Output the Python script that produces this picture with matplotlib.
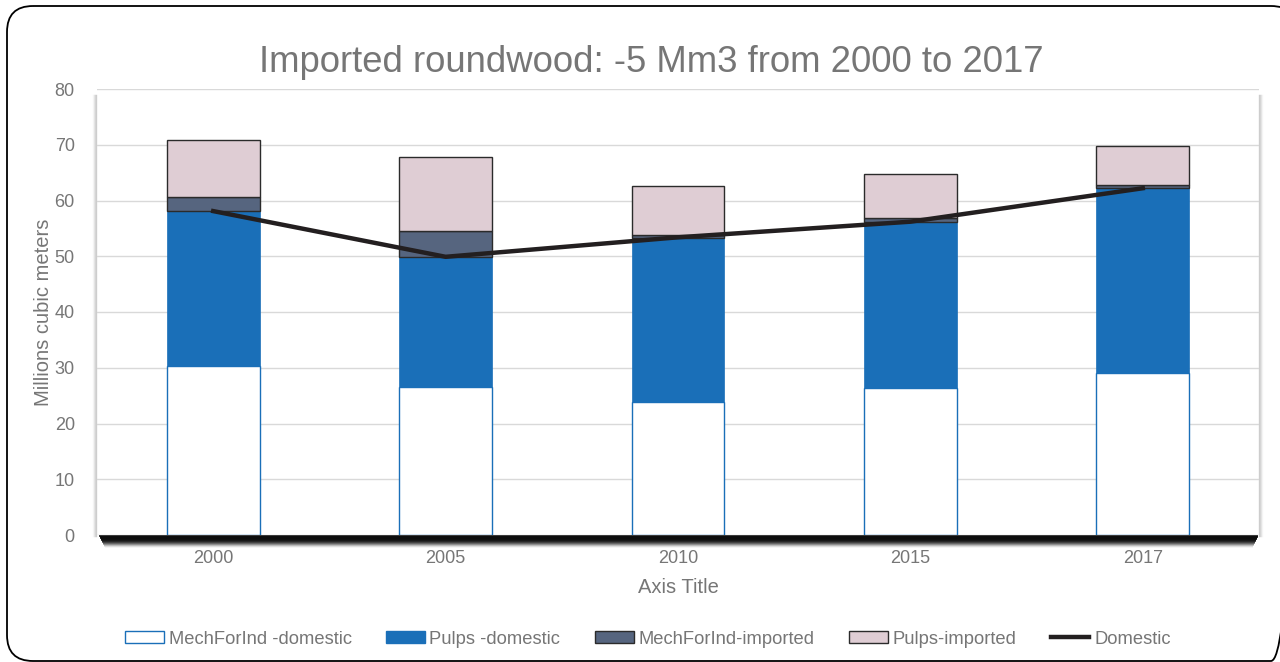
import matplotlib.pyplot as plt
import numpy as np
from matplotlib.patches import FancyBboxPatch
from matplotlib.lines import Line2D

plt.rcParams["font.family"] = ["Liberation Sans", "DejaVu Sans"]

years = ["2000", "2005", "2010", "2015", "2017"]
mech_dom = [30.3, 26.5, 23.9, 26.4, 29.1]
pulps_dom = [27.8, 23.4, 29.4, 29.7, 33.1]
mech_imp = [2.5, 4.6, 0.5, 0.8, 0.6]
pulps_imp = [10.3, 13.3, 8.8, 7.9, 7.0]
domestic = [58.1, 49.9, 53.4, 56.2, 62.2]

grey = "#767676"
W, H = 1280, 662
fig = plt.figure(figsize=(W / 100, H / 100), dpi=100)

# overlay in pixel units for the outer frame
bg = fig.add_axes([0, 0, 1, 1])
bg.set_xlim(0, W)
bg.set_ylim(H, 0)
bg.axis("off")
bg.add_patch(FancyBboxPatch((7, 6), 1290, 655, boxstyle="round,pad=0,rounding_size=26",
                            fc="none", ec="black", lw=1.3))
# soft shadows at plot-area edges
for i, a in enumerate(np.linspace(0.35, 0.05, 4)):
    bg.plot([96 - i, 96 - i], [95, 536], color="#808080", alpha=a, lw=1)
    bg.plot([1259 + i, 1259 + i], [95, 536], color="#808080", alpha=a, lw=1)
alphas = [1, 1, 1, 1, 0.95, 0.85, 0.7, 0.55, 0.4, 0.25, 0.12, 0.05]
for i, a in enumerate(alphas):
    bg.plot([99 + i * 0.5, 1258 - i * 0.5], [536 + i, 536 + i], color="black",
            alpha=a, lw=1.1, solid_capstyle="butt")

ax = fig.add_axes([97 / W, 1 - 535 / H, (1259 - 97) / W, (535 - 89) / H])
ax.patch.set_alpha(0)

x = np.arange(len(years))
w = 0.4
b1 = np.array(mech_dom)
b2 = b1 + np.array(pulps_dom)
b3 = b2 + np.array(mech_imp)

ax.bar(x, mech_dom, w, color="white", edgecolor="#1a6fb8", lw=1.0, zorder=3)
ax.bar(x, pulps_dom, w, bottom=b1, color="#1a6fb8", edgecolor="#1a6fb8", lw=0.5, zorder=3)
ax.bar(x, mech_imp, w, bottom=b2, color="#56657f", edgecolor="#2b2b2b", lw=1.0, zorder=3)
ax.bar(x, pulps_imp, w, bottom=b3, color="#dfcdd4", edgecolor="#2b2b2b", lw=1.0, zorder=3)
ax.plot(x, domestic, color="#231f20", lw=3.2, zorder=4)

ax.set_xlim(-0.5, 4.5)
ax.set_ylim(0, 80)
ax.set_yticks(range(0, 81, 10))
ax.set_xticks(x, years)
ax.grid(True, axis="y", color="#d9d9d9", lw=1.0, zorder=0)
for s in ax.spines.values():
    s.set_visible(False)
ax.tick_params(axis="y", length=0, colors=grey, labelsize=13, pad=16)
ax.tick_params(axis="x", length=0, colors=grey, labelsize=13, pad=11)
ax.set_ylabel("Millions cubic meters", color=grey, fontsize=14.5, labelpad=1)
ax.set_xlabel("Axis Title", color=grey, fontsize=14.5, labelpad=8)

fig.text(651 / W, 1 - 63 / H, "Imported roundwood: -5 Mm3 from 2000 to 2017",
         ha="center", va="center", color=grey, fontsize=26.3)

handles = [
    plt.Rectangle((0, 0), 1, 1, fc="white", ec="#1a6fb8"),
    plt.Rectangle((0, 0), 1, 1, fc="#1a6fb8", ec="#1a6fb8"),
    plt.Rectangle((0, 0), 1, 1, fc="#56657f", ec="#2b2b2b"),
    plt.Rectangle((0, 0), 1, 1, fc="#dfcdd4", ec="#2b2b2b"),
    Line2D([0], [0], color="#231f20", lw=3.2),
]
labels = ["MechForInd -domestic", "Pulps -domestic", "MechForInd-imported",
          "Pulps-imported", "Domestic"]
fig.legend(handles, labels, loc="center", bbox_to_anchor=(648 / W, 1 - 639 / H), ncol=5,
           frameon=False, fontsize=13.2, labelcolor=grey, handlelength=2.1,
           handleheight=0.6, handletextpad=0.25, columnspacing=1.9)

fig.savefig("out.png", dpi=100)
